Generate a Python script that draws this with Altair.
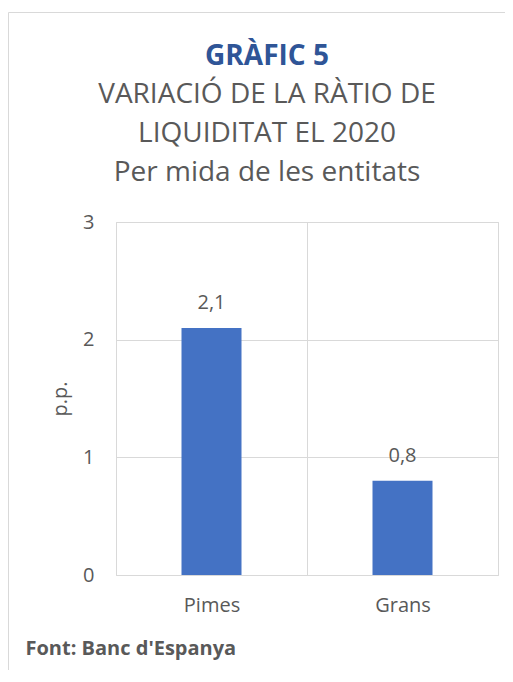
import altair as alt
import pandas as pd

categories = ["Pimes", "Grans"]
values = [2.1, 0.8]
labels = ["2,1", "0,8"]
y_ticks = [0, 1, 2, 3]

title_main = "GRÀFIC 5"
title_sub = ["VARIACIÓ DE LA RÀTIO DE", "LIQUIDITAT EL 2020", "Per mida de les entitats"]
y_title = "p.p."
source_note = "Font: Banc d'Espanya"

df = pd.DataFrame({"cat": categories, "val": values, "lab": labels})

TEXT = "#595959"
GRID = "#d9d9d9"
BLUE = "#4472C4"
FONT = "Open Sans"

x = alt.X(
    "cat:N",
    sort=categories,
    scale=alt.Scale(paddingInner=0, paddingOuter=0),
    axis=alt.Axis(
        title=source_note, titleX=-91, titleY=73, titleAlign="left",
        titleBaseline="middle", titleFont=FONT, titleFontWeight="bold",
        titleFontSize=20, titleColor=TEXT,
        labelAngle=0, labelFont=FONT, labelFontSize=20, labelColor=TEXT,
        labelPadding=20, ticks=False, domain=False,
        grid=True, gridColor=GRID, tickBand="extent",
    ),
)
y = alt.Y(
    "val:Q",
    scale=alt.Scale(domain=[0, 3]),
    axis=alt.Axis(
        values=y_ticks, title=y_title, titleX=-56, titleY=176.5,
        titleAngle=270, titleAlign="center", titleBaseline="middle",
        titleFont=FONT, titleFontSize=20, titleFontWeight="normal", titleColor=TEXT,
        labelFont=FONT, labelFontSize=20, labelColor=TEXT, labelPadding=22,
        ticks=False, domain=False, grid=True, gridColor=GRID,
    ),
)

frame = alt.Chart(pd.DataFrame({"k": [0]})).mark_rect(
    fillOpacity=0, stroke=GRID, strokeWidth=1
).encode(
    x=alt.value(-107.5), x2=alt.value(1000), y=alt.value(-209.5), y2=alt.value(1000)
)

bars = alt.Chart(df).mark_bar(size=60, color=BLUE).encode(x=x, y=y)
text = alt.Chart(df).mark_text(
    dy=-25, baseline="middle", font=FONT, fontSize=20, color=TEXT
).encode(x=x, y=y, text="lab:N")

chart = alt.layer(frame, bars, text).properties(
    width=382,
    height=353,
    autosize=alt.AutoSizeParams(type="none"),
    padding={"left": 108, "top": 214, "right": 7, "bottom": 95},
    title=alt.TitleParams(
        text=title_main, subtitle=title_sub,
        font=FONT, fontSize=28, fontWeight="bold", color="#2F5597",
        subtitleFont=FONT, subtitleFontSize=28, subtitleColor=TEXT,
        subtitleLineHeight=39, subtitlePadding=10,
        anchor="middle", dx=-40, dy=175, offset=0,
    ),
).configure_view(stroke=GRID)

chart.save("out.html", embed_options={"renderer": "svg", "actions": False})
